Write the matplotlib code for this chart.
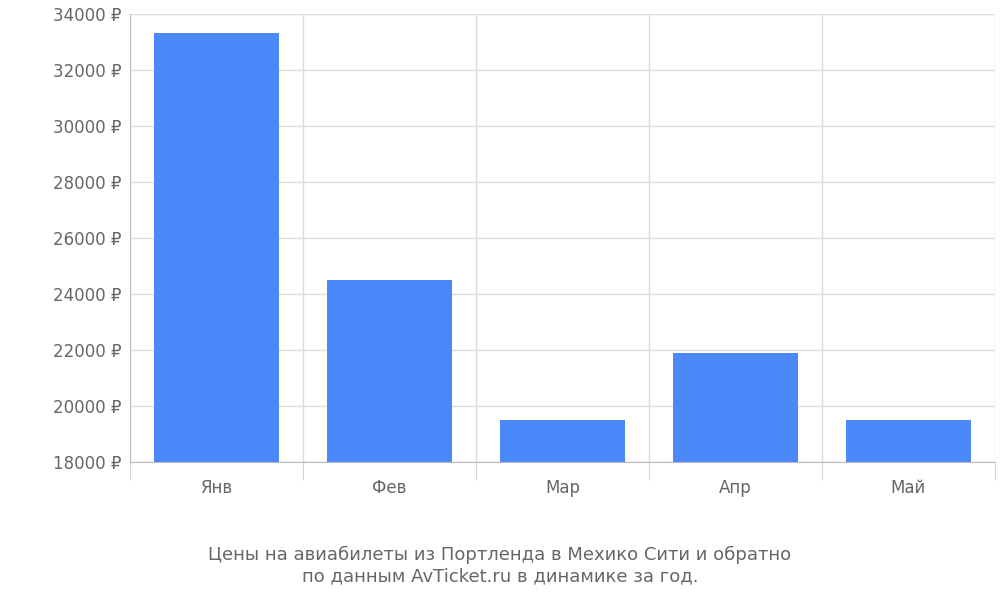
import matplotlib
matplotlib.use("Agg")
import matplotlib.pyplot as plt
from matplotlib.ticker import FixedLocator, FuncFormatter

months = ["Янв", "Фев", "Мар", "Апр", "Май"]
prices = [33300, 24500, 19500, 21900, 19500]
y_ticks = list(range(18000, 34001, 2000))
caption = "Цены на авиабилеты из Портленда в Мехико Сити и обратно\nпо данным AvTicket.ru в динамике за год."

text_color = "#666666"
grid_color = "#dddddd"

fig = plt.figure(figsize=(10, 6), dpi=100)
ax = fig.add_axes([0.130, 0.230, 0.865, 0.747])

x = list(range(len(months)))
ax.bar(x, prices, width=0.72, color="#4d88fa", zorder=3)

ax.set_xlim(-0.5, len(months) - 0.5)
ax.set_ylim(18000, 34000)
ax.set_yticks(y_ticks)
ax.yaxis.set_major_formatter(FuncFormatter(lambda v, _: f"{int(v)} ₽"))
ax.set_xticks(x)
ax.set_xticklabels(months)
ax.xaxis.set_minor_locator(FixedLocator([i - 0.5 for i in range(len(months) + 1)]))

ax.grid(axis="y", color=grid_color, linewidth=1, zorder=0)
ax.grid(axis="x", which="minor", color=grid_color, linewidth=1, zorder=0)

ax.tick_params(axis="x", which="major", length=0, pad=12, labelsize=12, labelcolor=text_color)
ax.tick_params(axis="x", which="minor", length=13, color="#cccccc")
ax.tick_params(axis="y", length=0, pad=6, labelsize=12, labelcolor=text_color)

for side in ["top", "right"]:
    ax.spines[side].set_visible(False)
ax.spines["left"].set_color("#bbbbbb")
ax.spines["bottom"].set_color("#bbbbbb")

fig.text(0.5, 0.025, caption, ha="center", va="bottom", fontsize=13,
         color=text_color, linespacing=1.2)

fig.savefig("out.png", dpi=100)
